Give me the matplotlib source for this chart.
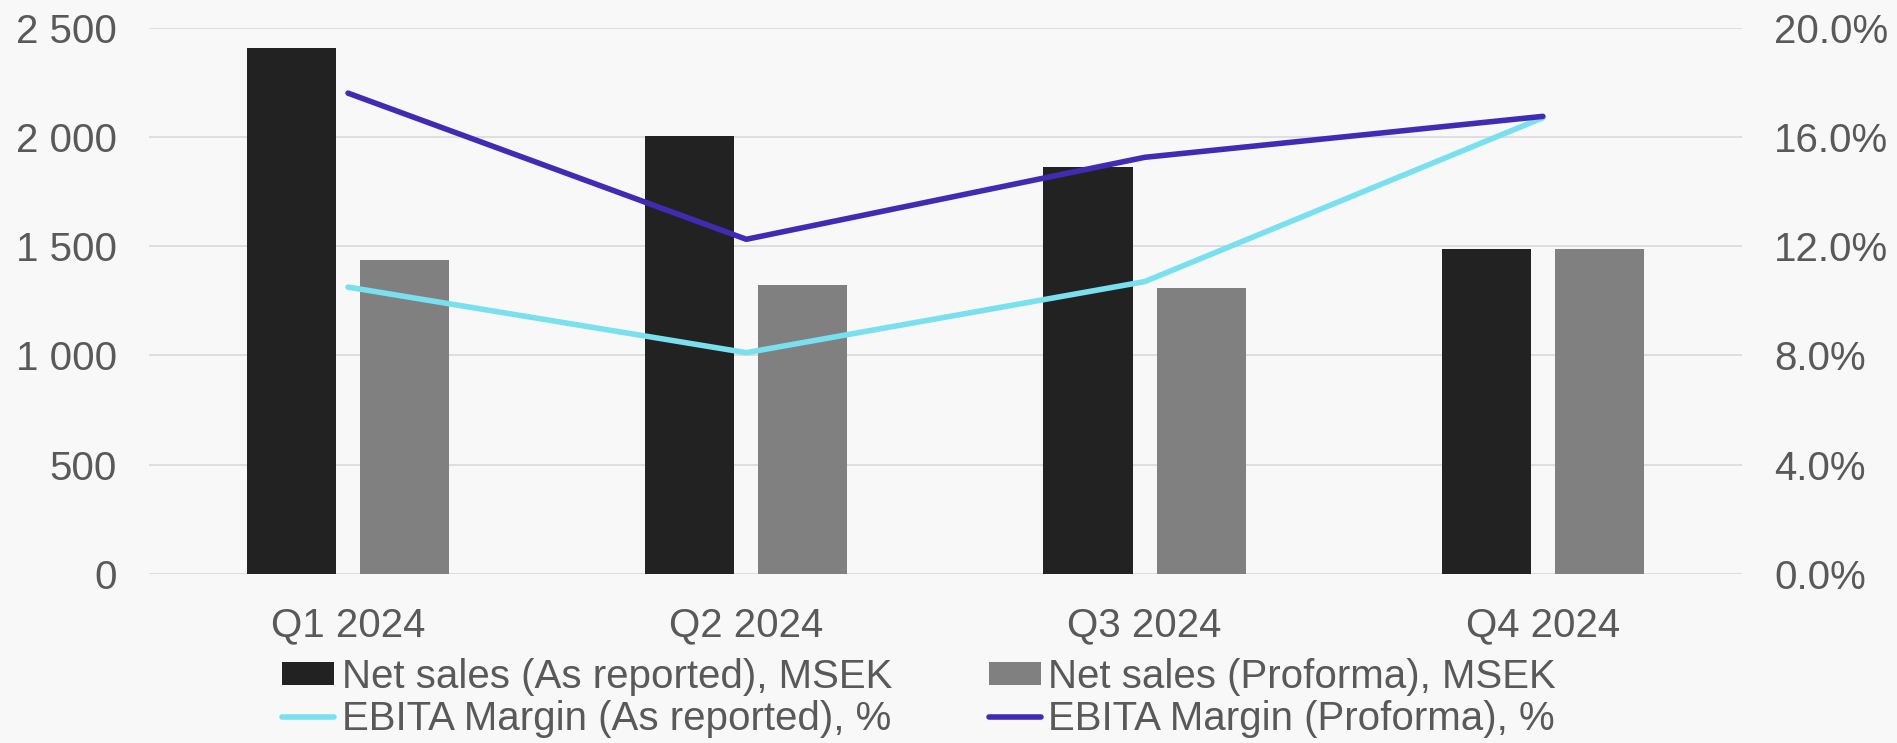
import numpy as np
import matplotlib; matplotlib.use("Agg"); import matplotlib.pyplot as plt
from matplotlib.ticker import FuncFormatter, MultipleLocator

quarters = ["Q1 2024", "Q2 2024", "Q3 2024", "Q4 2024"]
sales_reported = [2408, 2005, 1860, 1485]
sales_proforma = [1436, 1322, 1310, 1485]
margin_reported = [10.5, 8.1, 10.7, 16.7]
margin_proforma = [17.6, 12.25, 15.25, 16.75]

plt.rcParams["font.family"] = ["Liberation Sans", "DejaVu Sans"]
TXT = "#595959"; FS = 29
fig = plt.figure(figsize=(18.97, 7.43), dpi=100, facecolor="#f8f8f8")
ax = fig.add_axes([0.0785, 0.2275, 0.8398, 0.7354], facecolor="#f8f8f8")
x = np.arange(len(quarters)); w = 0.224; off = 0.142
b1 = ax.bar(x - off, sales_reported, w, color="#222222", zorder=2)
b2 = ax.bar(x + off, sales_proforma, w, color="#808080", zorder=2)
ax.set_xlim(-0.5, 3.5); ax.set_ylim(0, 2500)
ax.yaxis.set_major_locator(MultipleLocator(500))
ax.yaxis.set_major_formatter(FuncFormatter(lambda v, p: f"{int(v):,}".replace(",", " ")))
ax.grid(axis="y", color="#d9d9d9", lw=1.2, zorder=0); ax.set_axisbelow(True)
ax.set_xticks(x); ax.set_xticklabels(quarters)
for s in ax.spines.values(): s.set_visible(False)
ax.tick_params(length=0, labelsize=FS, labelcolor=TXT, pad=23)

ax2 = ax.twinx()
ax2.set_ylim(0, 20)
ax2.yaxis.set_major_locator(MultipleLocator(4))
ax2.yaxis.set_major_formatter(FuncFormatter(lambda v, p: f"{v:.1f}%"))
for s in ax2.spines.values(): s.set_visible(False)
ax2.tick_params(length=0, labelsize=FS, labelcolor=TXT, pad=23)
l1, = ax2.plot(x, margin_reported, color="#78e0ee", lw=4, solid_capstyle="round", solid_joinstyle="round")
l2, = ax2.plot(x, margin_proforma, color="#402cb4", lw=4, solid_capstyle="round", solid_joinstyle="round")

fig.legend([b1, l1, b2, l2],
           ["Net sales (As reported), MSEK", "EBITA Margin (As reported), %",
            "Net sales (Proforma), MSEK", "EBITA Margin (Proforma), %"],
           ncol=2, loc="center", bbox_to_anchor=(919/1897, 1-698/743), frameon=False,
           fontsize=FS, labelcolor=TXT, handlelength=1.3, handleheight=0.52,
           handletextpad=0.18, columnspacing=2.4, labelspacing=0.1, borderpad=0)
fig.savefig("out.png", dpi=100, facecolor=fig.get_facecolor())
